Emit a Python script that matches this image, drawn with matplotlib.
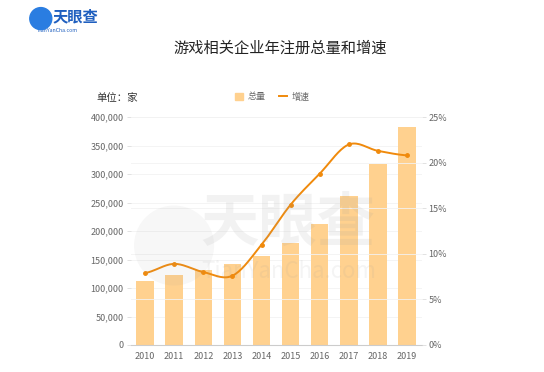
import matplotlib
matplotlib.use("Agg")
import matplotlib.pyplot as plt
import numpy as np
from matplotlib.lines import Line2D
from matplotlib.patches import Patch, Ellipse

plt.rcParams['font.family'] = ['Noto Sans CJK SC', 'DejaVu Sans']

years = ['2010', '2011', '2012', '2013', '2014', '2015', '2016', '2017', '2018', '2019']
totals = [112000, 122000, 131000, 142000, 157000, 179000, 213000, 261000, 317000, 382000]
growth = [7.9, 8.9, 8.0, 7.6, 11.0, 15.4, 18.8, 22.0, 21.3, 20.8]

bar_color = '#FFD18F'
line_color = '#F08A0C'
text_color = '#666666'


def smooth(xs, ys, n=20, t=0.5):
    # catmull-rom style curve through the points
    xs = np.asarray(xs, float)
    ys = np.asarray(ys, float)
    px = np.concatenate([[2 * xs[0] - xs[1]], xs, [2 * xs[-1] - xs[-2]]])
    py = np.concatenate([[ys[0]], ys, [ys[-1]]])
    outx, outy = [], []
    for i in range(1, len(px) - 2):
        s = np.linspace(0, 1, n)
        m1x = (px[i + 1] - px[i - 1]) * t
        m2x = (px[i + 2] - px[i]) * t
        m1y = (py[i + 1] - py[i - 1]) * t
        m2y = (py[i + 2] - py[i]) * t
        h00 = 2 * s**3 - 3 * s**2 + 1
        h10 = s**3 - 2 * s**2 + s
        h01 = -2 * s**3 + 3 * s**2
        h11 = s**3 - s**2
        outx.extend(h00 * px[i] + h10 * m1x + h01 * px[i + 1] + h11 * m2x)
        outy.extend(h00 * py[i] + h10 * m1y + h01 * py[i + 1] + h11 * m2y)
    return np.array(outx), np.array(outy)


fig = plt.figure(figsize=(5.44, 3.72), dpi=100)
ax = fig.add_axes([0.240, 0.0726, 0.535, 0.6125])
x = np.arange(len(years))

ax.bar(x, totals, width=0.6, color=bar_color, zorder=2)
ax.set_xlim(-0.5, len(years) - 0.5)
ax.set_ylim(0, 400000)
ax.set_yticks(np.arange(0, 400001, 50000))
ax.set_yticklabels([f'{v:,}' for v in range(0, 400001, 50000)])
ax.set_xticks(x)
ax.set_xticklabels(years)
ax.tick_params(axis='x', length=0, pad=5, labelsize=6.5, colors=text_color)
ax.tick_params(axis='y', length=3, width=0.6, color='#dddddd', pad=2, labelsize=6.5, labelcolor=text_color)
ax.grid(axis='y', color='#f2f2f2', linewidth=0.6, zorder=0)
for s in ['top', 'right', 'left']:
    ax.spines[s].set_visible(False)
ax.spines['bottom'].set_color('#cccccc')
ax.spines['bottom'].set_linewidth(0.8)

ax2 = ax.twinx()
ax2.set_ylim(0, 25)
ax2.set_yticks(np.arange(0, 26, 5))
ax2.set_yticklabels([f'{v}%' for v in range(0, 26, 5)])
ax2.tick_params(axis='y', length=3, width=0.6, color='#dddddd', pad=2, labelsize=6.5, labelcolor=text_color)
ax2.grid(axis='y', color='#f2f2f2', linewidth=0.6, zorder=0)
for s in ['top', 'right', 'left', 'bottom']:
    ax2.spines[s].set_visible(False)
sx, sy = smooth(x, growth)
ax2.plot(sx, sy, color=line_color, linewidth=1.4, zorder=3)
ax2.plot(x, growth, 'o', color=line_color, markersize=2.5, zorder=4)

# watermark
fig.patches.append(Ellipse((0.32, 0.34), 80 / 544, 80 / 372, transform=fig.transFigure,
                           facecolor='#9a9a9a', alpha=0.08, zorder=5))
fig.text(0.53, 0.40, '天眼查', fontsize=42, color='#9a9a9a', alpha=0.12,
         ha='center', va='center', fontweight='bold', style='italic', zorder=5)
fig.text(0.53, 0.27, 'TianYanCha.com', fontsize=16, color='#9a9a9a', alpha=0.10,
         ha='center', va='center', zorder=5)

# logo
fig.patches.append(Ellipse((0.075, 0.95), 22 / 544, 22 / 372, transform=fig.transFigure,
                           color='#2a7de1', zorder=5))
fig.text(0.097, 0.955, '天眼查', fontsize=11, color='#1f5fbf', fontweight='bold',
         ha='left', va='center')
fig.text(0.068, 0.918, 'TianYanCha.com', fontsize=3.8, color='#1f5fbf', ha='left', va='center')

fig.text(0.515, 0.87, '游戏相关企业年注册总量和增速', fontsize=11, color='#222222',
         ha='center', va='center')
fig.text(0.178, 0.737, '单位：家', fontsize=7.5, color='#333333', ha='left', va='center')

handles = [Patch(color=bar_color), Line2D([0], [0], color=line_color, linewidth=1.4)]
fig.legend(handles, ['总量', '增速'], loc='center', bbox_to_anchor=(0.5, 0.74),
           ncol=2, frameon=False, fontsize=6.5, handlelength=0.9, handleheight=0.8,
           columnspacing=1.5, handletextpad=0.5, labelcolor=text_color)

fig.savefig('out.png', dpi=100)
